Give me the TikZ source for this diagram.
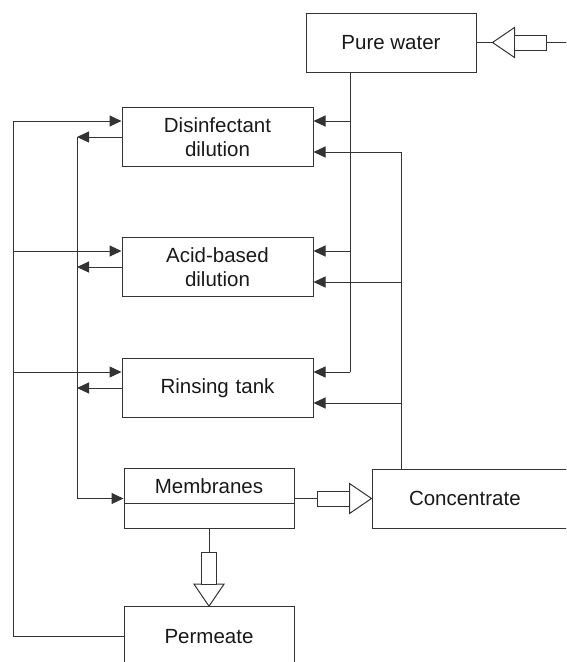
\documentclass[tikz,border=0pt]{standalone}
\usepackage{fontspec}
\setmainfont{Liberation Sans}
\usetikzlibrary{
    shapes.multipart,
    positioning,
    arrows.meta
}

\begin{document}
\begin{tikzpicture}[
      x=1pt, y=-1pt,
      line width=1pt,
      color=black!80,
      text=black!90,
      font=\fontsize{20.5}{24}\selectfont,
      % Set distances between nodes
      node distance=70pt and 77pt,
      % Define styles for the elements
      base/.style={
          rectangle,
          draw,
          minimum height=59pt,
          minimum width=170pt
        },
      tank/.style={
          base,
          text centered,
          minimum width=191pt,
          text width=170pt
        },
      multi/.style={
          base,
          minimum height=0pt,
          inner ysep=9.5pt,
          rectangle split,
          rectangle split horizontal=false
        },
      arrow/.style={
          -{Triangle[length=12pt,width=11pt]} % Arrow tip style
        },
      fatarrow/.pic={
          \draw[fill=white] (0pt,0pt) -- (-22pt,15pt) -- (-22pt,-15pt) -- cycle;
          \draw[fill=white] (-22pt,-7.5pt) rectangle (-54pt,7.5pt);
          \coordinate (-tip) at (0pt,0pt);
          \coordinate (-tail) at (-54pt,0pt);
        }
    ]

    \useasboundingbox (0,0) rectangle (566,662);
    \clip (0,0) rectangle (566,662);

    % Place the nodes
    \node[base] (pw) at (391,42.5) {Pure water};

    \node[tank] (disinf) at (217.5,137) {Disinfectant\\dilution};

    \node[tank, below=70pt of disinf] (acid) {Acid-based\\dilution};

    \node[tank, below=61pt of acid] (rinse) {Rinsing tank};

    \node[multi, rectangle split parts=2] (memb) at (209,498.5) {
      Membranes
      \nodepart{two}
    };

    \node[base, right=of memb, text width=150pt, align=left, inner xsep=37pt] (conc) {
      Concentrate
    };

    \node[base, below=77pt of memb] (perm) {Permeate};

    % Helper points for the vertical lines
    \coordinate (leftbus) at (13,0);
    \coordinate (retbus) at (77,0);
    \coordinate (pwbus) at ([xshift=-41pt]pw.south);
    \coordinate (concbus) at ([xshift=30pt]conc.north west);
    \coordinate (source) at ([xshift=90pt]pw.east);

    % Draw the vertical lines
    \draw (perm.west) -| ([yshift=16pt]disinf.west -| leftbus);
    \draw[arrow] (disinf.west -| retbus) |- (memb.west);
    \draw (pwbus) -- ([yshift=16pt]rinse.east -| pwbus);
    \draw (concbus) -- ([yshift=-15pt]disinf.east -| concbus);

    % Draw the arrows in and out of each tank
    \foreach \tank in {disinf, acid, rinse} {
      \draw[arrow] ([yshift=16pt]\tank.west -| leftbus) -- ([yshift=16pt]\tank.west);
      \draw[arrow] (\tank.west) -- (\tank.west -| retbus);
      \draw[arrow] ([yshift=16pt]\tank.east -| pwbus) -- ([yshift=16pt]\tank.east);
      \draw[arrow] ([yshift=-15pt]\tank.east -| concbus) -- ([yshift=-15pt]\tank.east);
    }

    % Draw the open flow arrows
    \pic[rotate=180] (inflow) at ([xshift=16pt]pw.east) {fatarrow};
    \draw (pw.east) -- (inflow-tip);
    \draw (inflow-tail) -- (source);

    \pic (concflow) at (conc.west) {fatarrow};
    \draw (memb.east) -- (concflow-tail);

    \pic[rotate=-90] (permflow) at (perm.north) {fatarrow};
    \draw (memb.south) -- (permflow-tail);

  \end{tikzpicture}
\end{document}
